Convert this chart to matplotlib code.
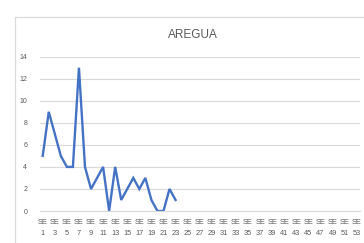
import matplotlib
matplotlib.use("Agg")
import matplotlib.pyplot as plt
from matplotlib.patches import Rectangle

title = "AREGUA"
weeks = list(range(1, 54))
values = [5, 9, 7, 5, 4, 4, 13, 4, 2, 3, 4, 0, 4, 1, 2, 3, 2, 3, 1, 0, 0, 2, 1]
yticks = [0, 2, 4, 6, 8, 10, 12, 14]

plt.rcParams['font.family'] = ['Liberation Sans', 'DejaVu Sans']

W, H = 364, 243
fig = plt.figure(figsize=(W / 100, H / 100), dpi=100)
fig.patch.set_facecolor('white')

# chart border
fig.patches.append(Rectangle((15 / W, -0.1), 1.2, (H - 17) / H + 0.1,
                             transform=fig.transFigure, fill=False,
                             edgecolor='#D9D9D9', lw=0.9))

left, right = 39.7 / W, 359.7 / W
bottom, top = (H - 211) / H, (H - 56.7) / H
ax = fig.add_axes([left, bottom, right - left, top - bottom])

x = list(range(len(values)))
ax.plot(x, values, color='#4472C4', lw=1.7, solid_joinstyle='miter')

ax.set_xlim(-0.5, len(weeks) - 0.5)
ax.set_ylim(0, 14)
ax.set_yticks(yticks)
ax.set_yticklabels([str(v) for v in yticks], fontsize=5, color='#595959')
ax.set_xticks(range(len(weeks)))
ax.set_xticklabels([f"SE\n{w}" if i % 2 == 0 else "" for i, w in enumerate(weeks)],
                   fontsize=5.3, color='#595959', linespacing=1.75)
ax.tick_params(axis='x', length=0, pad=6)
ax.tick_params(axis='y', length=0, pad=9)
ax.grid(axis='y', color='#D9D9D9', lw=0.8)
ax.set_axisbelow(True)
for s in ['top', 'right', 'left']:
    ax.spines[s].set_visible(False)
ax.spines['bottom'].set_color('#D9D9D9')
ax.spines['bottom'].set_linewidth(0.8)

fig.text(193 / W, (H - 35) / H, title, ha='center', va='center',
         fontsize=8.5, color='#595959')

fig.savefig("out.png", dpi=100)
